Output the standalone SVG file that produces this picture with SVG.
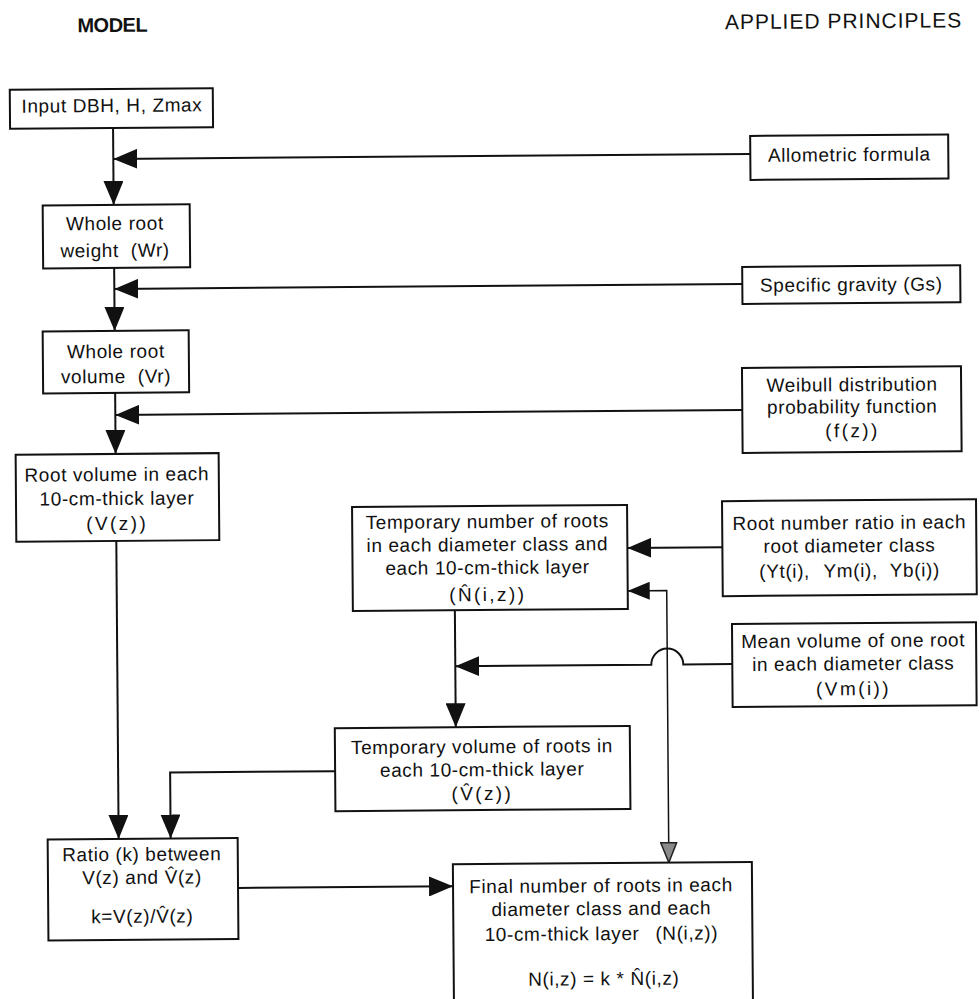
<svg xmlns="http://www.w3.org/2000/svg" width="980" height="999" viewBox="0 0 980 999">
<style>
  .box{fill:#fff;stroke:#111;stroke-width:2}
  .t{font-family:"Liberation Sans",Arial,sans-serif;font-size:19px;letter-spacing:0.6px;fill:#111;text-anchor:middle}
  .w{letter-spacing:2.4px}
  .hd{font-family:"Liberation Sans",Arial,sans-serif;fill:#111}
  .c{fill:none;stroke:#111;stroke-width:2}
  .thin{stroke-width:1.5}
</style>
<defs>
  <marker id="ah" viewBox="0 0 24 20" refX="24" refY="10" markerWidth="24" markerHeight="20" markerUnits="userSpaceOnUse" orient="auto">
    <path d="M0,0 L24,10 L0,20 z" fill="#111"/>
  </marker>
  <marker id="ahs" viewBox="0 0 22 18" refX="22" refY="9" markerWidth="22" markerHeight="18" markerUnits="userSpaceOnUse" orient="auto-start-reverse">
    <path d="M0,0 L22,9 L0,18 z" fill="#111"/>
  </marker>
  <marker id="ahg" viewBox="0 0 22 18" refX="21" refY="9" markerWidth="22" markerHeight="18" markerUnits="userSpaceOnUse" orient="auto">
    <path d="M1,1 L21,9 L1,17 z" fill="#8a8a8a" stroke="#222" stroke-width="1.5"/>
  </marker>
</defs>
<rect width="980" height="999" fill="#fff"/>
<g transform="rotate(-0.45 490 500)">
  <text class="hd" x="116" y="29" text-anchor="middle" font-size="20" font-weight="bold" letter-spacing="-0.5">MODEL</text>
  <text class="hd" x="966" y="31" text-anchor="end" font-size="21" letter-spacing="1">APPLIED PRINCIPLES</text>

  <g id="connectors">
    <path class="c" d="M116,125 V202" marker-end="url(#ah)"/>
    <path class="c" d="M753,156 H116" marker-end="url(#ah)"/>
    <path class="c" d="M116,265 V328" marker-end="url(#ah)"/>
    <path class="c" d="M744,286 H116" marker-end="url(#ah)"/>
    <path class="c" d="M116,390 V451" marker-end="url(#ah)"/>
    <path class="c" d="M743,412 H116" marker-end="url(#ah)"/>
    <path class="c" d="M116,538 V836" marker-end="url(#ah)"/>
    <path class="c" d="M333,770 H168 V836" marker-end="url(#ah)"/>
    <path class="c" d="M235,886 H450" marker-end="url(#ah)"/>
    <path class="c" d="M722,549 H627" marker-end="url(#ah)"/>
    <path class="c" d="M454,610 V727" marker-end="url(#ah)"/>
    <path class="c" d="M731,666 H682 A16,16 0 0 0 650,666 H454" marker-end="url(#ah)"/>
    <path class="c thin" d="M627,592 H666 V864" marker-start="url(#ahs)" marker-end="url(#ahg)"/>
  </g>

  <g id="n_input">
    <rect class="box" x="13" y="86" width="203" height="39"/>
    <text class="t" x="115" y="109">Input DBH, H, Zmax</text>
  </g>
  <g id="n_allometric">
    <rect class="box" x="753" y="138" width="198" height="44"/>
    <text class="t" x="852" y="164">Allometric formula</text>
  </g>
  <g id="n_weight">
    <rect class="box" x="45" y="202" width="147" height="63"/>
    <text class="t" x="117" y="227">Whole root</text>
    <text class="t" x="117" y="254">weight <tspan dx="6">(Wr)</tspan></text>
  </g>
  <g id="n_gravity">
    <rect class="box" x="744" y="269" width="218" height="37"/>
    <text class="t" x="853" y="294">Specific gravity (Gs)</text>
  </g>
  <g id="n_volume">
    <rect class="box" x="44" y="328" width="146" height="62"/>
    <text class="t" x="117" y="355">Whole root</text>
    <text class="t" x="117" y="380">volume <tspan dx="6">(Vr)</tspan></text>
  </g>
  <g id="n_weibull">
    <rect class="box" x="743" y="370" width="219" height="85"/>
    <text class="t" x="853" y="394">Weibull distribution</text>
    <text class="t" x="853" y="416">probability function</text>
    <text class="t w" x="853" y="440">(f(z))</text>
  </g>
  <g id="n_rootvol">
    <rect class="box" x="16" y="451" width="203" height="87"/>
    <text class="t" x="117" y="478">Root volume in each</text>
    <text class="t" x="117" y="502">10-cm-thick layer</text>
    <text class="t w" x="117" y="527">(V(z))</text>
  </g>
  <g id="n_nhat">
    <rect class="box" x="352" y="506" width="275" height="104"/>
    <text class="t" x="487" y="528">Temporary number of roots</text>
    <text class="t" x="487" y="551">in each diameter class and</text>
    <text class="t" x="487" y="574">each 10-cm-thick layer</text>
    <text class="t w" x="487" y="601">(N̂(i,z))</text>
  </g>
  <g id="n_rootratio">
    <rect class="box" x="722" y="503" width="254" height="95"/>
    <text class="t" x="849" y="532">Root number ratio in each</text>
    <text class="t" x="849" y="555">root diameter class</text>
    <text class="t" x="849" y="580">(Yt(i), <tspan dx="8">Ym(i),</tspan><tspan dx="12">Yb(i))</tspan></text>
  </g>
  <g id="n_meanvol">
    <rect class="box" x="731" y="626" width="244" height="83"/>
    <text class="t" x="852" y="650">Mean volume of one root</text>
    <text class="t" x="852" y="673">in each diameter class</text>
    <text class="t w" x="852" y="698">(Vm(i))</text>
  </g>
  <g id="n_vhat">
    <rect class="box" x="333" y="727" width="295" height="83"/>
    <text class="t" x="480" y="753">Temporary volume of roots in</text>
    <text class="t" x="480" y="776">each 10-cm-thick layer</text>
    <text class="t w" x="480" y="800">(V̂(z))</text>
  </g>
  <g id="n_ratio">
    <rect class="box" x="45" y="836" width="190" height="101"/>
    <text class="t" x="139" y="858">Ratio (k) between</text>
    <text class="t" x="139" y="881">V(z) and V̂(z)</text>
    <text class="t" x="139" y="920">k=V(z)/V̂(z)</text>
  </g>
  <g id="n_final">
    <rect class="box" x="450" y="864" width="299" height="150"/>
    <text class="t" x="598" y="893">Final number of roots in each</text>
    <text class="t" x="598" y="916">diameter class and each</text>
    <text class="t" x="598" y="941">10-cm-thick layer <tspan dx="10">(N(i,z))</tspan></text>
    <text class="t" x="600" y="986">N(i,z) = k * N̂(i,z)</text>
  </g>
</g>
</svg>
